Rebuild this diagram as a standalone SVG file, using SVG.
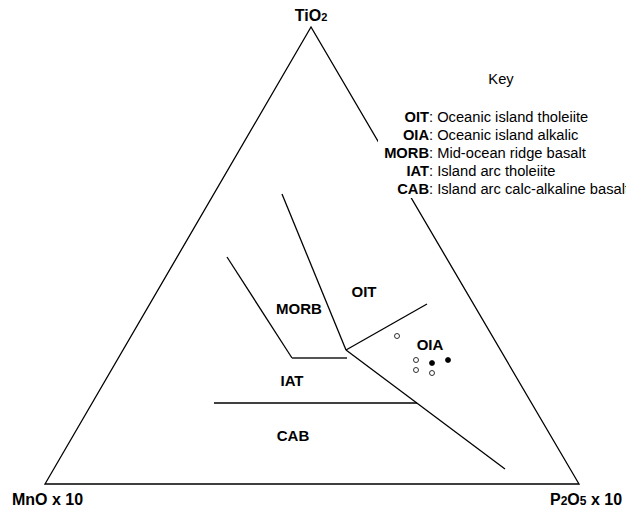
<svg xmlns="http://www.w3.org/2000/svg" width="626" height="512" viewBox="0 0 626 512">
<style>
text{font-family:"Liberation Sans",Arial,sans-serif;fill:#000}
.ax{font-size:16px;font-weight:bold}
.lb{font-size:15px;font-weight:bold}
.kb{font-size:14.7px;font-weight:bold;text-anchor:end}
.kt{font-size:14.7px}
.ln{fill:none;stroke:#000;stroke-width:1.3}
.op{fill:#fff;stroke:#000;stroke-width:0.8}
.cl{fill:#000;stroke:#000;stroke-width:0.8}
</style>
<rect width="626" height="512" fill="#fff"/>
<g id="triangle">
<polygon class="ln" points="311,27 45,484 579,484"/>
</g>
<g id="connectors">
<line class="ln" x1="227" y1="257" x2="292" y2="358"/>
<line class="ln" x1="292" y1="358" x2="347" y2="358" style="stroke:#555;stroke-width:1.8"/>
<line class="ln" x1="282" y1="194" x2="346" y2="350"/>
<line class="ln" x1="346" y1="350" x2="427" y2="304"/>
<line class="ln" x1="346" y1="350" x2="505" y2="469"/>
<line class="ln" x1="214" y1="403" x2="417" y2="403"/>
</g>
<g id="axis-labels">
<text class="ax" x="311" y="21" text-anchor="middle">TiO<tspan font-size="11">2</tspan></text>
<text class="ax" x="12" y="505">MnO x 10</text>
<text class="ax" x="550" y="505">P<tspan font-size="12">2</tspan>O<tspan font-size="12">5</tspan> x 10</text>
</g>
<g id="field-labels">
<text class="lb" x="364" y="297" text-anchor="middle">OIT</text>
<text class="lb" x="299" y="314" text-anchor="middle">MORB</text>
<text class="lb" x="430" y="350" text-anchor="middle">OIA</text>
<text class="lb" x="292" y="386" text-anchor="middle">IAT</text>
<text class="lb" x="293" y="441" text-anchor="middle">CAB</text>
</g>
<g id="points">
<circle class="op" cx="397" cy="336" r="2.5"/>
<circle class="op" cx="416" cy="360" r="2.5"/>
<circle class="op" cx="416" cy="370" r="2.5"/>
<circle class="op" cx="432" cy="373" r="2.5"/>
<circle class="cl" cx="432" cy="363" r="2.5"/>
<circle class="cl" cx="448" cy="360" r="2.5"/>
</g>
<g id="key">
<rect x="378" y="104" width="248" height="94" fill="#fff"/>
<text class="kt" x="501" y="84" text-anchor="middle">Key</text>
<text class="kb" x="429" y="122">OIT</text><text class="kt" x="429" y="122">: Oceanic island tholeiite</text>
<text class="kb" x="429" y="140">OIA</text><text class="kt" x="429" y="140">: Oceanic island alkalic</text>
<text class="kb" x="429" y="158">MORB</text><text class="kt" x="429" y="158">: Mid-ocean ridge basalt</text>
<text class="kb" x="429" y="176">IAT</text><text class="kt" x="429" y="176">: Island arc tholeiite</text>
<text class="kb" x="429" y="194">CAB</text><text class="kt" x="429" y="194">: Island arc calc-alkaline basalt</text>
</g>
</svg>
